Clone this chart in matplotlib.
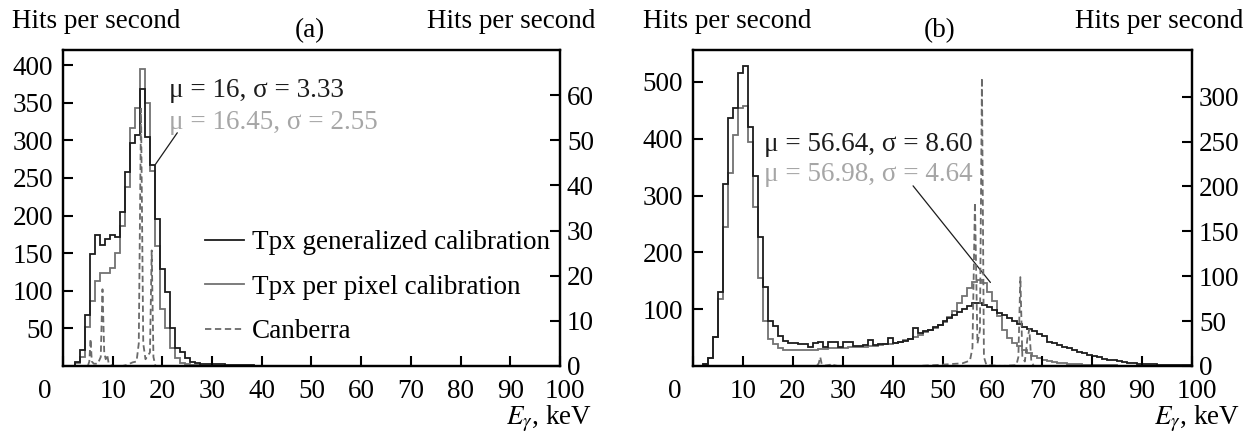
import numpy as np
import matplotlib
matplotlib.use("Agg")
import matplotlib.pyplot as plt
from matplotlib.lines import Line2D
from matplotlib.transforms import ScaledTranslation

plt.rcParams['font.family'] = ['Liberation Serif', 'DejaVu Serif']
plt.rcParams['mathtext.fontset'] = 'stix'
plt.rcParams['font.size'] = 19.5

# ---- panel (a): bins of 1 keV centred on integer energies ----
a_centers = list(range(1, 46))
a_generalized = [0, 0, 5, 21, 68, 149, 174, 161, 169, 174,
                 172, 205, 258, 297, 307, 368, 304, 267, 196, 129,
                 98, 50, 24, 19, 10, 5, 4, 3, 3, 2,
                 2, 2, 1, 1, 1, 1, 1, 1, 0.5, 0.5,
                 0, 0, 0, 0, 0]
a_perpixel = [0, 0, 4, 12, 52, 86, 113, 123, 124, 130,
              150, 186, 238, 316, 343, 395, 349, 259, 160, 76,
              50, 24, 10, 4, 2, 1, 1, 0.5, 0, 0,
              0, 0, 0, 0, 0, 0, 0, 0, 0, 0,
              0, 0, 0, 0, 0]
a_canberra_e = [3.0, 5.0, 5.3, 5.55, 5.8, 6.2, 7.0, 7.6, 7.95, 8.3, 8.6, 8.9, 9.2, 10.0,
                12.0, 13.0, 14.0, 14.8, 15.25, 15.7, 16.15, 16.6, 17.5, 17.85, 18.2, 18.6, 25.0]
a_canberra_v = [0, 0, 1, 6, 1, 0.5, 0.5, 2, 17, 3, 1.5, 2.5, 0.5, 0,
                0, 0.3, 0.8, 1, 5, 57, 5, 1.5, 3, 25.6, 2, 0, 0]

# ---- panel (b): bins of 1 keV starting at integer energies ----
b_left_edges = list(range(0, 100))
b_generalized = [0, 0, 4, 14, 51, 131, 320, 436, 454, 516,
                 528, 420, 334, 227, 139, 79, 71, 52, 44, 41,
                 40, 39, 38, 33, 41, 42, 34, 43, 42, 34,
                 43, 42, 36, 36, 37, 45, 37, 38, 39, 50,
                 40, 42, 44, 47, 66, 58, 61, 64, 68, 73,
                 79, 85, 90, 95, 100, 105, 110, 111, 108, 104,
                 99, 94, 89, 84, 79, 74, 69, 65, 61, 57,
                 53, 42, 40, 37, 34, 31, 28, 25, 22, 19,
                 17, 15, 13, 11, 10, 8, 7, 6, 5, 4,
                 4, 3, 3, 2, 2, 2, 1, 1, 1, 1]
b_perpixel = [0, 0, 4, 14, 51, 118, 245, 340, 406, 454,
              457, 395, 280, 155, 80, 47, 38, 32, 29, 28,
              28, 28, 28, 29, 29, 30, 30, 31, 31, 32,
              32, 33, 33, 34, 34, 35, 36, 37, 38, 39,
              40, 42, 45, 48, 51, 55, 59, 63, 67, 72,
              78, 86, 96, 111, 123, 137, 148, 152, 146, 131,
              114, 88, 64, 50, 41, 35, 29, 23, 17, 14,
              11, 9, 7, 6, 5, 4, 3, 3, 2, 2,
              1, 1, 1, 1, 1, 0.5, 0, 0, 0, 0,
              0, 0, 0, 0, 0, 0, 0, 0, 0, 0]
b_canberra_e = [3, 20, 24.8, 25.2, 25.5, 25.8, 26.5, 27.6, 27.9, 28.2, 29, 45, 50, 54,
                55.5, 56.0, 56.5, 57.0, 57.5, 57.9, 58.3, 58.8, 62, 64.8, 65.2, 65.6, 66.0,
                66.5, 67.0, 67.4, 67.8, 68.3, 100]
b_canberra_v = [0, 0, 0, 3, 10, 2, 0.5, 1.5, 3, 1, 0, 0, 1.5, 3,
                6, 20, 182, 25, 40, 321, 10, 1, 0, 1, 10, 99, 10,
                5, 30, 41, 5, 0, 0]

black = '#1c1c1c'
gray = '#727272'
dash_gray = '#6a6a6a'
light = '#a6a6a6'

fig = plt.figure(figsize=(12.52, 4.38), dpi=100)


def setup(ax, ax2, ylim_l, ylim_r, yt_l, yt_r):
    ax.set_xlim(0, 100)
    ax.set_ylim(*ylim_l)
    ax2.set_ylim(*ylim_r)
    ax.set_xticks(range(0, 101, 10))
    ax.set_xticklabels([str(v) for v in range(0, 101, 10)])
    ax.set_yticks(yt_l)
    ax2.set_yticks(yt_r)
    for a in (ax, ax2):
        for s in a.spines.values():
            s.set_linewidth(1.6)
    ax.tick_params(axis='x', direction='in', length=7, width=1.5, pad=9.5, top=False)
    ax.tick_params(axis='y', direction='in', length=7, width=1.5, pad=7, right=False)
    ax2.tick_params(axis='y', direction='in', length=7, width=1.5, pad=5, left=False)
    lab = ax.get_xticklabels()
    lab[0].set_transform(lab[0].get_transform() + ScaledTranslation(-0.18, 0, fig.dpi_scale_trans))
    lab[-1].set_transform(lab[-1].get_transform() + ScaledTranslation(0.05, 0, fig.dpi_scale_trans))


# panel (a)
ax = fig.add_axes([0.0503, 0.1644, 0.3970, 0.7214])
ax2 = ax.twinx()
edges_a = np.array(a_centers + [a_centers[-1] + 1]) - 0.5
ax.stairs(a_perpixel, edges_a, color=gray, lw=1.3)
ax.stairs(a_generalized, edges_a, color=black, lw=1.3)
ax2.plot(a_canberra_e, a_canberra_v, color=dash_gray, lw=1.3, ls=(0, (3.5, 2)))
setup(ax, ax2, (0, 420), (0, 70), range(50, 401, 50), range(0, 61, 10))
ax.text(21.25, 357, 'μ = 16, σ = 3.33', color=black)
ax.text(21.25, 315, 'μ = 16.45, σ = 2.55', color=light)
ax.annotate('', xy=(18.6, 268), xytext=(23.0, 310),
            arrowprops=dict(arrowstyle='-', color=black, lw=0.9, shrinkA=0, shrinkB=0))
handles = [Line2D([], [], color=black, lw=1.3),
           Line2D([], [], color=gray, lw=1.3),
           Line2D([], [], color=dash_gray, lw=1.3, ls=(0, (3.5, 2)))]
ax.legend(handles, ['Tpx generalized calibration', 'Tpx per pixel calibration', 'Canberra'],
          loc='upper left', bbox_to_anchor=(0.285, 0.43), frameon=False, borderpad=0,
          borderaxespad=0, handlelength=1.45, handletextpad=0.3, labelspacing=0.72)

# panel (b)
bx = fig.add_axes([0.5535, 0.1644, 0.3986, 0.7214])
bx2 = bx.twinx()
edges_b = np.array(b_left_edges + [b_left_edges[-1] + 1])
bx.stairs(b_perpixel, edges_b, color=gray, lw=1.3)
bx.stairs(b_generalized, edges_b, color=black, lw=1.3)
bx2.plot(b_canberra_e, b_canberra_v, color=dash_gray, lw=1.3, ls=(0, (3.5, 2)))
setup(bx, bx2, (0, 556), (0, 352), range(100, 501, 100), range(0, 301, 50))
bx.text(14.3, 379, 'μ = 56.64, σ = 8.60', color=black)
bx.text(14.3, 325, 'μ = 56.98, σ = 4.64', color=light)
bx.annotate('', xy=(59.6, 147), xytext=(44.1, 317),
            arrowprops=dict(arrowstyle='-', color=black, lw=0.9, shrinkA=0, shrinkB=0))

# outer labels
for x0, x1, xt, tag in [(12, 595, 310, '(a)'), (643, 1243, 940, '(b)')]:
    fig.text(x0 / 1252, 1 - 22 / 438, 'Hits per second', ha='left', va='center')
    fig.text(x1 / 1252, 1 - 22 / 438, 'Hits per second', ha='right', va='center')
    fig.text(xt / 1252, 1 - 31 / 438, tag, ha='center', va='center')
    fig.text(x1 / 1252 - 0.002, 1 - 434 / 438, r'$E_{\gamma}$, keV', ha='right', va='bottom')

fig.savefig('out.png', dpi=100)
